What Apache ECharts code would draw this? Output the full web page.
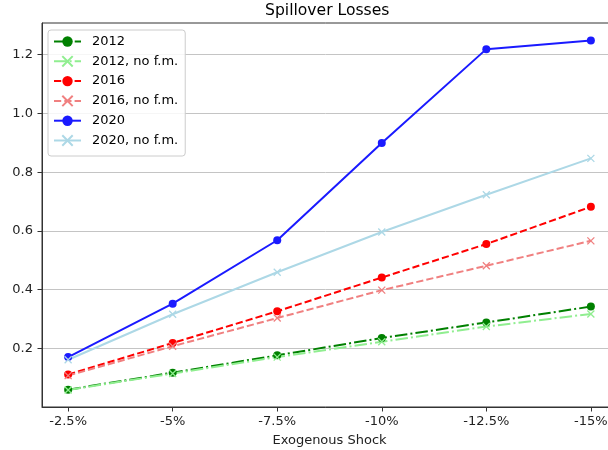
<!DOCTYPE html>
<html>
<head>
<meta charset="utf-8">
<script src="https://cdn.jsdelivr.net/npm/echarts@6/dist/echarts.min.js"></script>
<style>
  html, body { margin: 0; padding: 0; background: #fff; }
  #chart { width: 608px; height: 450px; }
</style>
</head>
<body>
<div id="chart"></div>
<script>
// Shock sizes along the x axis
const shocks = ['-2.5%', '-5%', '-7.5%', '-10%', '-12.5%', '-15%'];

// Spillover losses per scenario
const y2012      = [0.059, 0.117, 0.176, 0.235, 0.288, 0.342];
const y2012NoFm  = [0.058, 0.114, 0.170, 0.222, 0.274, 0.317];
const y2016      = [0.111, 0.218, 0.326, 0.441, 0.555, 0.682];
const y2016NoFm  = [0.107, 0.207, 0.303, 0.398, 0.481, 0.566];
const y2020      = [0.170, 0.352, 0.568, 0.899, 1.219, 1.248];
const y2020NoFm  = [0.161, 0.316, 0.459, 0.596, 0.723, 0.847];

const yTicks = [0.2, 0.4, 0.6, 0.8, 1.0, 1.2];

const FONT = 'DejaVu Sans';
const CROSS = 'path://M0,0L10,10M10,0L0,10';
const DASHED = [7.2, 3.1];
const DASHDOT = [12.5, 3.1, 2, 3.1];

function makeSeries(name, values, color, dash, marker) {
  const isCross = marker === 'x';
  return {
    name: name,
    type: 'line',
    data: values.map((v, i) => [i, v]),
    symbol: isCross ? CROSS : 'circle',
    symbolSize: isCross ? 7 : 8,
    showSymbol: true,
    lineStyle: { color: color, width: 2, type: dash },
    itemStyle: isCross
      ? { color: color, borderColor: color, borderWidth: 1.3 }
      : { color: color, borderColor: color, borderWidth: 0 },
    emphasis: { disabled: true },
    animation: false
  };
}

const chart = echarts.init(document.getElementById('chart'), null, { renderer: 'canvas' });

chart.setOption({
  backgroundColor: '#ffffff',
  animation: false,
  title: {
    text: 'Spillover Losses',
    left: 265,
    top: 3,
    padding: 0,
    textStyle: { fontFamily: FONT, fontSize: 15.6, fontWeight: 'normal', color: '#000' }
  },
  legend: {
    orient: 'vertical',
    left: 48,
    top: 30,
    padding: [5, 7, 9, 5],
    itemWidth: 27,
    itemHeight: 13,
    itemGap: 6.8,
    borderColor: '#cccccc',
    borderWidth: 1,
    borderRadius: 3,
    backgroundColor: 'rgba(255,255,255,0.85)',
    textStyle: { fontFamily: FONT, fontSize: 13, color: '#000', padding: [0, 0, 0, 6] },
    data: ['2012', '2012, no f.m.', '2016', '2016, no f.m.', '2020', '2020, no f.m.']
  },
  grid: {
    left: 42,
    top: 23,
    width: 575,
    height: 384,
    outerBoundsMode: 'none',
    containLabel: false,
    show: true,
    borderColor: '#333',
    borderWidth: 1,
    backgroundColor: 'transparent'
  },
  xAxis: {
    type: 'value',
    min: -0.25,
    max: 5.25,
    name: 'Exogenous Shock',
    nameLocation: 'middle',
    nameGap: 27,
    nameTextStyle: { fontFamily: FONT, fontSize: 13, color: '#222' },
    axisLine: { show: true, onZero: false, lineStyle: { color: '#333', width: 1 } },
    axisTick: { show: true, length: 4.5, customValues: [0, 1, 2, 3, 4, 5], lineStyle: { color: '#333' } },
    axisLabel: {
      customValues: [0, 1, 2, 3, 4, 5],
      margin: 8,
      fontFamily: FONT,
      fontSize: 13,
      color: '#222',
      formatter: v => shocks[Math.round(v)] ?? ''
    },
    splitLine: { show: false }
  },
  yAxis: {
    type: 'value',
    min: 0,
    max: 1.308,
    interval: 0.2,
    axisLine: { show: true, onZero: false, lineStyle: { color: '#333', width: 1 } },
    axisTick: { show: true, length: 4.5, customValues: yTicks, lineStyle: { color: '#333' } },
    axisLabel: {
      customValues: yTicks,
      margin: 9,
      fontFamily: FONT,
      fontSize: 13,
      color: '#222',
      formatter: v => v.toFixed(1)
    },
    splitLine: { show: true, lineStyle: { color: '#c4c4c4', width: 1 } }
  },
  series: [
    makeSeries('2012', y2012, '#008000', DASHDOT, 'o'),
    makeSeries('2012, no f.m.', y2012NoFm, '#90ee90', DASHDOT, 'x'),
    makeSeries('2016', y2016, '#ff0000', DASHED, 'o'),
    makeSeries('2016, no f.m.', y2016NoFm, '#f08080', DASHED, 'x'),
    makeSeries('2020', y2020, '#1a1aff', 'solid', 'o'),
    makeSeries('2020, no f.m.', y2020NoFm, '#add8e6', 'solid', 'x')
  ]
});
</script>
</body>
</html>
